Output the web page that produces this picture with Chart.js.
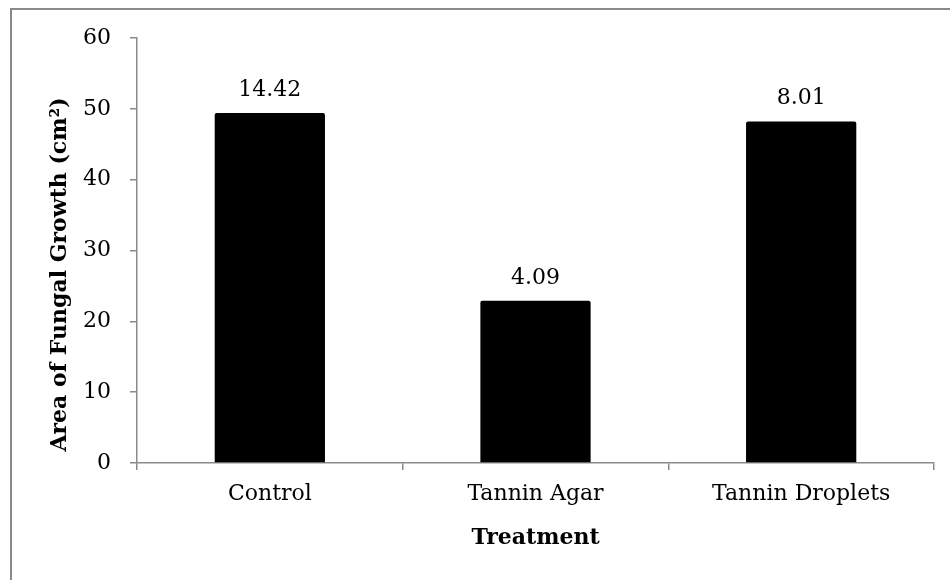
<!DOCTYPE html>
<html>
<head>
<meta charset="utf-8">
<script src="https://cdn.jsdelivr.net/npm/chart.js@4.4.1/dist/chart.umd.min.js"></script>
<style>
  html, body { margin: 0; padding: 0; background: #fff; overflow: hidden; }
</style>
</head>
<body>
<canvas id="myChart" width="950" height="580"></canvas>
<script>
// data
const categories = ['Control', 'Tannin Agar', 'Tannin Droplets'];
const growth = [49.4, 22.9, 48.2];
const barLabels = ['14.42', '4.09', '8.01'];
const yTicks = [0, 10, 20, 30, 40, 50, 60];
const yTitle = 'Area of Fungal Growth (cm\u00B2)';

const axisGray = '#8a8a8a';
const serif = "'DejaVu Serif', 'Liberation Serif', serif";

Chart.defaults.font.family = serif;
Chart.defaults.color = '#000';

// grey frame on the top and left of the picture
const framePlugin = {
  id: 'frame',
  beforeDraw(chart) {
    const c = chart.ctx;
    c.save();
    c.strokeStyle = axisGray;
    c.lineWidth = 2;
    c.beginPath();
    c.moveTo(11, 580);
    c.lineTo(11, 9);
    c.lineTo(950, 9);
    c.stroke();
    c.restore();
  }
};

// text above each bar + the y title (sits a bit below the axis middle)
const labelPlugin = {
  id: 'barText',
  afterDatasetsDraw(chart) {
    const c = chart.ctx;
    const meta = chart.getDatasetMeta(0);
    c.save();
    c.font = '22px ' + serif;
    c.fillStyle = '#000';
    c.textAlign = 'center';
    c.textBaseline = 'bottom';
    meta.data.forEach((bar, i) => {
      c.fillText(barLabels[i], bar.x, bar.y - 12);
    });
    const area = chart.chartArea;
    c.translate(60, (area.top + area.bottom) / 2 + 24);
    c.rotate(-Math.PI / 2);
    c.font = 'bold 22px ' + serif;
    c.textBaseline = 'middle';
    c.fillText(yTitle, 0, 0);
    c.restore();
  }
};

let ctx = document.getElementById('myChart').getContext('2d');
let growthChart = new Chart(ctx, {
  type: 'bar',
  data: {
    labels: categories,
    datasets: [{
      label: 'Area',
      data: growth,
      backgroundColor: '#000',
      borderRadius: 2,
      borderSkipped: 'bottom',
      categoryPercentage: 1,
      barPercentage: 0.415
    }]
  },
  options: {
    responsive: false,
    animation: false,
    layout: { padding: { left: 0, right: 16, top: 38, bottom: 0 } },
    plugins: {
      legend: { display: false },
      tooltip: { enabled: false }
    },
    scales: {
      x: {
        grid: {
          offset: true,
          drawOnChartArea: false,
          drawTicks: true,
          tickLength: 7,
          color: axisGray,
          lineWidth: 1.5
        },
        border: { color: axisGray, width: 1.5 },
        ticks: { font: { size: 22 }, padding: 11, color: '#000' },
        title: {
          display: true,
          text: 'Treatment',
          font: { size: 22, weight: 'bold' },
          padding: { top: 0, bottom: 29 },
          color: '#000'
        },
        afterFit(scale) { scale.height = 117; }
      },
      y: {
        min: 0,
        max: 60,
        afterBuildTicks(scale) { scale.ticks = yTicks.map(v => ({ value: v })); },
        grid: {
          drawOnChartArea: false,
          drawTicks: true,
          tickLength: 7,
          color: axisGray,
          lineWidth: 1.5
        },
        border: { color: axisGray, width: 1.5 },
        ticks: { font: { size: 22 }, padding: 19, color: '#000' },
        afterFit(scale) { scale.width = 137; }
      }
    }
  },
  plugins: [framePlugin, labelPlugin]
});
</script>
</body>
</html>
